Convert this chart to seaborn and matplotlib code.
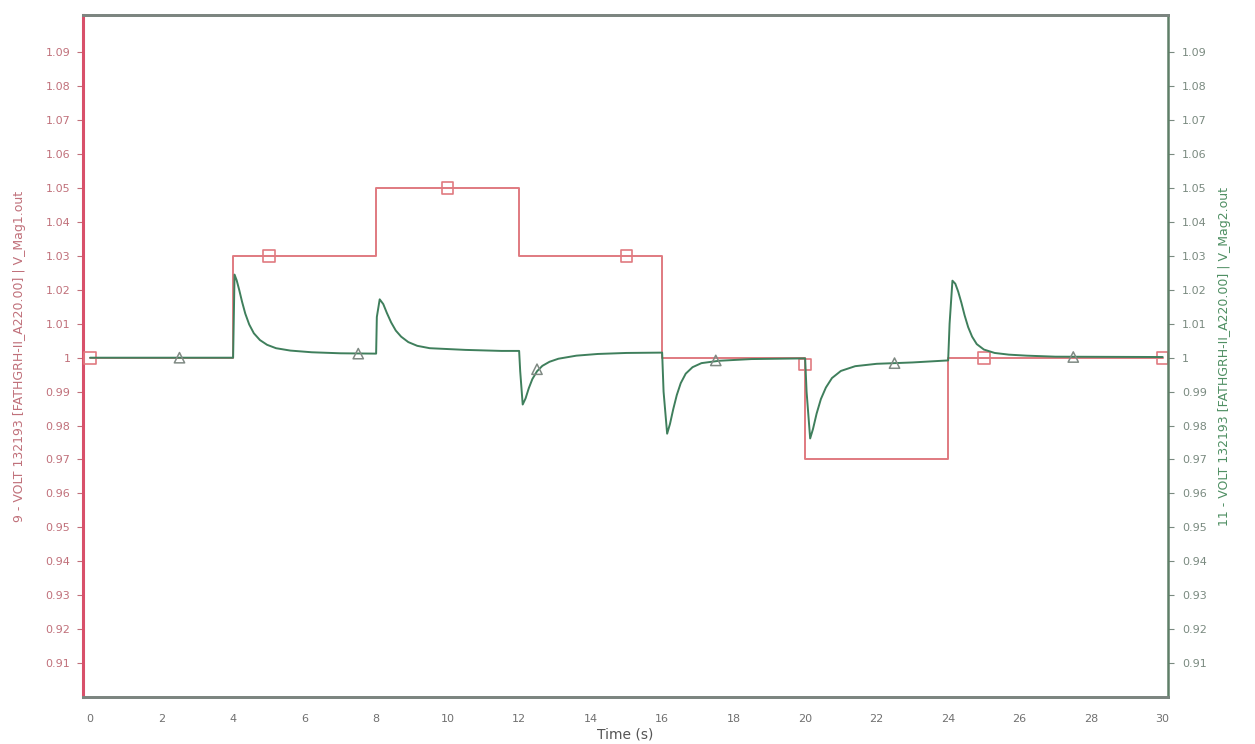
import numpy as np
import pandas as pd
import matplotlib
matplotlib.use("Agg")
import matplotlib.pyplot as plt
import seaborn as sns

# Voltage setpoint on bus 9 (step changes), p.u.
ref_time = [0, 4, 4, 8, 8, 12, 12, 16, 16, 20, 20, 24, 24, 30]
ref_volt = [1.0, 1.0, 1.03, 1.03, 1.05, 1.05, 1.03, 1.03, 1.0, 1.0, 0.97, 0.97, 1.0, 1.0]
ref_mark_time = [0, 5, 10, 15, 20, 25, 30]
ref_mark_volt = [1.0, 1.03, 1.05, 1.03, 0.998, 1.0, 1.0]

# Voltage response on bus 11, p.u.
resp_time = [0, 4.0, 4.04, 4.1, 4.17, 4.25, 4.34, 4.45, 4.58, 4.75, 4.95, 5.2, 5.6, 6.2, 7.0, 8.0,
             8.02, 8.1, 8.2, 8.3, 8.42, 8.55, 8.7, 8.9, 9.15, 9.5, 10.5, 11.5, 12.0,
             12.03, 12.1, 12.18, 12.27, 12.37, 12.5, 12.65, 12.85, 13.1, 13.6, 14.2, 15.0, 16.0,
             16.04, 16.14, 16.22, 16.31, 16.41, 16.52, 16.66, 16.85, 17.1, 17.6, 18.5, 20.0,
             20.04, 20.14, 20.22, 20.32, 20.44, 20.58, 20.75, 21.0, 21.4, 22.0, 23.0, 24.0,
             24.04, 24.12, 24.2, 24.28, 24.37, 24.46, 24.56, 24.67, 24.8, 25.0, 25.3, 25.7, 26.2, 27.0, 30.0]
resp_volt = [1.0, 1.0, 1.0245, 1.0228, 1.0200, 1.0165, 1.0130, 1.0098, 1.0072, 1.0052, 1.0038, 1.0028, 1.0021, 1.0016, 1.0013, 1.0012,
             1.0120, 1.0172, 1.0158, 1.0132, 1.0104, 1.0080, 1.0062, 1.0046, 1.0035, 1.0028, 1.0023, 1.0020, 1.0020,
             0.9960, 0.9862, 0.9880, 0.9910, 0.9937, 0.9960, 0.9976, 0.9988, 0.9997, 1.0006, 1.0011, 1.0014, 1.0015,
             0.9900, 0.9776, 0.9805, 0.9848, 0.9890, 0.9925, 0.9953, 0.9972, 0.9984, 0.9991, 0.9996, 0.9998,
             0.9900, 0.9762, 0.9790, 0.9835, 0.9878, 0.9912, 0.9940, 0.9961, 0.9975, 0.9982, 0.9986, 0.9992,
             1.0100, 1.0227, 1.0218, 1.0195, 1.0162, 1.0125, 1.0090, 1.0062, 1.0040, 1.0024, 1.0014, 1.0009, 1.0006, 1.0003, 1.0002]
resp_mark_time = [2.5, 7.5, 12.5, 17.5, 22.5, 27.5]
resp_mark_volt = [1.0, 1.0012, 0.9966, 0.9992, 0.9984, 1.0002]

x_ticks = list(range(0, 31, 2))
y_ticks = [0.91, 0.92, 0.93, 0.94, 0.95, 0.96, 0.97, 0.98, 0.99, 1.0,
           1.01, 1.02, 1.03, 1.04, 1.05, 1.06, 1.07, 1.08, 1.09]
y_tick_labels = ["0.91", "0.92", "0.93", "0.94", "0.95", "0.96", "0.97", "0.98", "0.99", "1",
                 "1.01", "1.02", "1.03", "1.04", "1.05", "1.06", "1.07", "1.08", "1.09"]

left_label = "9 - VOLT 132193 [FATHGRH-II_A220.00] | V_Mag1.out"
right_label = "11 - VOLT 132193 [FATHGRH-II_A220.00] | V_Mag2.out"

RED = "#e07a80"
RED_AXIS = "#d8506a"
RED_TEXT = "#c0707a"
GREEN = "#3f7f5c"
GREEN_AXIS = "#5f7f68"
GREEN_TEXT = "#7a8a80"
GRAY = "#8a8a8a"

sns.set_style("white")
plt.rcParams["font.family"] = ["DejaVu Sans"]

fig = plt.figure(figsize=(12.55, 7.44), dpi=100)
ax = fig.add_axes([0.0661, 0.0632, 0.8646, 0.9166])
ax2 = ax.twinx()

ref_df = pd.DataFrame({"t": ref_time, "v": ref_volt})
resp_df = pd.DataFrame({"t": resp_time, "v": resp_volt})

sns.lineplot(data=ref_df, x="t", y="v", ax=ax, color=RED, lw=1.4,
             sort=False, estimator=None)
sns.scatterplot(x=ref_mark_time, y=ref_mark_volt, ax=ax, marker="s", s=70,
                facecolor="none", edgecolor=RED, linewidth=1.2, zorder=5)

sns.lineplot(data=resp_df, x="t", y="v", ax=ax2, color=GREEN, lw=1.4,
             sort=False, estimator=None)
sns.scatterplot(x=resp_mark_time, y=resp_mark_volt, ax=ax2, marker="^", s=55,
                facecolor="none", edgecolor="#808a84", linewidth=1.1, zorder=5)

for a in (ax, ax2):
    a.set_xlim(-0.2, 30.15)
    a.set_ylim(0.90, 1.101)
    a.set_yticks(y_ticks)

ax.set_xticks(x_ticks)
ax.set_xticklabels([str(v) for v in x_ticks], fontsize=8, color="#707070")
ax.set_yticklabels(y_tick_labels, fontsize=8, color=RED_TEXT)
ax2.set_yticklabels(y_tick_labels, fontsize=8, color=GREEN_TEXT)

ax.tick_params(axis="x", length=4, width=0.8, color=GRAY, pad=8)
ax.tick_params(axis="y", length=4, width=0.8, color=RED_TEXT, pad=5)
ax2.tick_params(axis="y", length=4, width=0.8, color=GREEN_TEXT, pad=6)

ax.set_xlabel("Time (s)", fontsize=10, color="#555555", labelpad=3)
ax.set_ylabel(left_label, fontsize=9, color=RED_TEXT, labelpad=14)
ax2.set_ylabel(right_label, fontsize=9, color="#4f8f63", rotation=90, labelpad=8)
ax2.yaxis.set_label_position("right")

for a in (ax, ax2):
    for side in ("top", "bottom", "left", "right"):
        a.spines[side].set_visible(True)
ax.spines["left"].set_color(RED_AXIS)
ax.spines["left"].set_linewidth(2.2)
ax2.spines["left"].set_visible(False)
ax2.spines["right"].set_color(GREEN_AXIS)
ax2.spines["right"].set_linewidth(1.8)
ax.spines["right"].set_visible(False)
for a in (ax, ax2):
    a.spines["top"].set_color("#7c8580")
    a.spines["top"].set_linewidth(2.0)
    a.spines["bottom"].set_color("#7c8580")
    a.spines["bottom"].set_linewidth(2.0)

fig.savefig("out.png", dpi=100, facecolor="white")
